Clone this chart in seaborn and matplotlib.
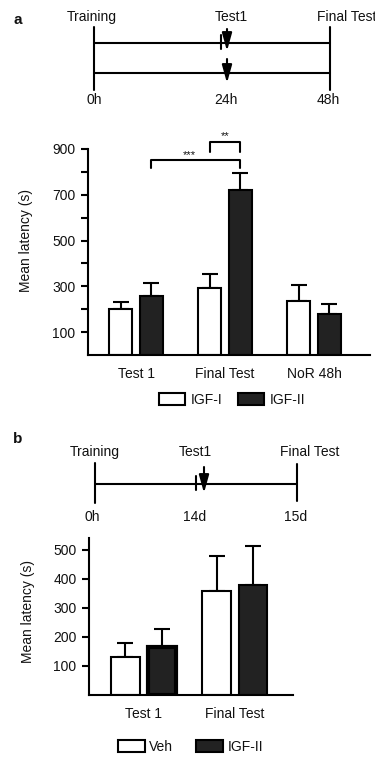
import numpy as np
import pandas as pd
import matplotlib
matplotlib.use("Agg")
import matplotlib.pyplot as plt
from matplotlib.patches import Patch
import seaborn as sns

# ---------------- data ----------------
cats_a = ["Test 1", "Final Test", "NoR 48h"]
igf1_a = [200, 293, 235]
igf1_a_err = [32, 60, 70]
igf2_a = [258, 720, 178]
igf2_a_err = [57, 75, 45]
groups_a = ["IGF-I", "IGF-II"]

cats_b = ["Test 1", "Final Test"]
veh_b = [130, 357]
veh_b_err = [48, 122]
igf2_b = [165, 380]
igf2_b_err = [62, 133]
groups_b = ["Veh", "IGF-II"]

yticks_a = [100, 200, 300, 400, 500, 600, 700, 800, 900]
yticklabels_a = ["100", "", "300", "", "500", "", "700", "", "900"]
yticks_b = [100, 200, 300, 400, 500]

tl_a_top = ["Training", "Test1", "Final Test"]
tl_a_bottom = ["0h", "24h", "48h"]
tl_b_top = ["Training", "Test1", "Final Test"]
tl_b_bottom = ["0h", "14d", "15d"]

sig_a = ["***", "**"]

# ---------------- style ----------------
sns.set_theme(style="ticks")
plt.rcParams["font.family"] = ["Liberation Sans", "DejaVu Sans"]
plt.rcParams["font.size"] = 10
plt.rcParams["text.color"] = "#111111"
plt.rcParams["axes.labelcolor"] = "#111111"
FS = 10
LW = 1.5
DARK = "#222222"

W, H = 375, 758
fig = plt.figure(figsize=(W / 100, H / 100), dpi=100)


def px_axes(x0, y0, x1, y1):
    return fig.add_axes([x0 / W, 1 - y1 / H, (x1 - x0) / W, (y1 - y0) / H])


# overlay for schematic (pixel coordinates)
ov = fig.add_axes([0, 0, 1, 1])
ov.set_xlim(0, W)
ov.set_ylim(H, 0)
ov.axis("off")


def arrow(x, y0, y1):
    ov.annotate("", xy=(x, y1), xytext=(x, y0),
                arrowprops=dict(arrowstyle="-|>,head_length=0.9,head_width=0.25",
                                lw=1.5, color="black", mutation_scale=12,
                                shrinkA=0, shrinkB=0))


# ---- panel a schematic ----
ov.text(18, 20, "a", fontsize=11, fontweight="bold", ha="center", va="center")
for x, lab in zip([92, 231], tl_a_top[:2]):
    ov.text(x, 17, lab, ha="center", va="center", fontsize=FS)
ov.text(317, 17, tl_a_top[2], ha="left", va="center", fontsize=FS)
for x, lab in zip([94, 226, 328], tl_a_bottom):
    ov.text(x, 100, lab, ha="center", va="center", fontsize=FS)
ov.plot([94, 94], [27, 90], color="black", lw=LW)
ov.plot([330, 330], [27, 90], color="black", lw=LW)
ov.plot([94, 330], [43, 43], color="black", lw=LW)
ov.plot([94, 330], [73, 73], color="black", lw=LW)
ov.plot([221, 221], [35, 49], color="black", lw=LW)
arrow(227, 29, 51)
arrow(227, 59, 83)

# ---- panel b schematic ----
ov.text(18, 439, "b", fontsize=11, fontweight="bold", ha="center", va="center")
for x, lab in zip([95, 195], tl_b_top[:2]):
    ov.text(x, 452, lab, ha="center", va="center", fontsize=FS)
ov.text(310, 452, tl_b_top[2], ha="center", va="center", fontsize=FS)
for x, lab in zip([92, 195, 296], tl_b_bottom):
    ov.text(x, 517, lab, ha="center", va="center", fontsize=FS)
ov.plot([95, 95], [463, 503], color="black", lw=LW)
ov.plot([297, 297], [464, 501], color="black", lw=LW)
ov.plot([95, 297], [484, 484], color="black", lw=LW)
ov.plot([196, 196], [476, 490], color="black", lw=LW)
arrow(204, 467, 493)


def style_axes(ax):
    sns.despine(ax=ax)
    for s in ["left", "bottom"]:
        ax.spines[s].set_linewidth(LW)
        ax.spines[s].set_color("black")
    ax.tick_params(axis="y", length=5, width=LW, pad=4, labelsize=FS,
                   colors="black", labelcolor="#111111")
    ax.tick_params(axis="x", length=0, pad=9, labelsize=FS, labelcolor="#111111")
    ax.set_xlabel("")


def add_err(ax, n_cat, errs):
    patches = ax.patches[: 2 * n_cat]
    for p, e in zip(patches, errs):
        xc = p.get_x() + p.get_width() / 2
        h = p.get_height()
        ax.errorbar([xc], [h], yerr=[[0], [e]], fmt="none", ecolor="black",
                    elinewidth=LW, capsize=5.5, capthick=LW, zorder=1, clip_on=False)


# ---- panel a bar chart ----
axa = px_axes(88, 149, 370, 355)
df_a = pd.DataFrame({
    "cat": cats_a * 2,
    "val": igf1_a + igf2_a,
    "grp": [groups_a[0]] * 3 + [groups_a[1]] * 3,
})
sns.barplot(data=df_a, x="cat", y="val", hue="grp", order=cats_a, hue_order=groups_a,
            palette={groups_a[0]: "white", groups_a[1]: DARK}, edgecolor="black",
            linewidth=LW, width=0.68, gap=0.235, legend=False, ax=axa, zorder=2)
add_err(axa, 3, igf1_a_err + igf2_a_err)
axa.set_ylim(0, 900)
axa.set_xlim(-0.54, 2.63)
axa.set_yticks(yticks_a)
axa.set_yticklabels(yticklabels_a)
style_axes(axa)
axa.set_ylabel("Mean latency (s)", fontsize=FS)
axa.yaxis.set_label_coords(-0.195, 0.558)

# significance brackets
pa = axa.patches
x_t1_2 = pa[3].get_x() + pa[3].get_width() / 2
x_f_1 = pa[1].get_x() + pa[1].get_width() / 2
x_f_2 = pa[4].get_x() + pa[4].get_width() / 2
axa.plot([x_t1_2, x_t1_2, x_f_2, x_f_2], [817, 852, 852, 817], color="black",
         lw=LW, clip_on=False)
axa.text((x_t1_2 + x_f_2) / 2 - 0.07, 875, sig_a[0], ha="center", va="center",
         fontsize=8, clip_on=False)
axa.plot([x_f_1, x_f_1, x_f_2, x_f_2], [887, 930, 930, 887], color="black",
         lw=LW, clip_on=False)
axa.text((x_f_1 + x_f_2) / 2, 955, sig_a[1], ha="center", va="center",
         fontsize=8, clip_on=False)

leg_a = [Patch(facecolor="white", edgecolor="black", lw=LW, label=groups_a[0]),
         Patch(facecolor=DARK, edgecolor="black", lw=LW, label=groups_a[1])]
fig.legend(handles=leg_a, loc="center", bbox_to_anchor=(232 / W, 1 - 400 / H),
           ncol=2, frameon=False, fontsize=FS, handlelength=1.87, handleheight=1.0,
           handletextpad=0.43, columnspacing=1.08, borderpad=0, borderaxespad=0)

# ---- panel b bar chart ----
axb = px_axes(89, 538, 293, 695)
df_b = pd.DataFrame({
    "cat": cats_b * 2,
    "val": veh_b + igf2_b,
    "grp": [groups_b[0]] * 2 + [groups_b[1]] * 2,
})
sns.barplot(data=df_b, x="cat", y="val", hue="grp", order=cats_b, hue_order=groups_b,
            palette={groups_b[0]: "white", groups_b[1]: DARK}, edgecolor="black",
            linewidth=LW, width=0.8, gap=0.225, legend=False, ax=axb, zorder=2)
axb.patches[2].set_linewidth(3)
add_err(axb, 2, veh_b_err + igf2_b_err)
axb.set_ylim(0, 541)
axb.set_xlim(-0.6, 1.64)
axb.set_yticks(yticks_b)
style_axes(axb)
axb.set_ylabel("Mean latency (s)", fontsize=FS)
axb.yaxis.set_label_coords(-0.267, 0.535)

leg_b = [Patch(facecolor="white", edgecolor="black", lw=LW, label=groups_b[0]),
         Patch(facecolor=DARK, edgecolor="black", lw=LW, label=groups_b[1])]
fig.legend(handles=leg_b, loc="center", bbox_to_anchor=(190.5 / W, 1 - 747 / H),
           ncol=2, frameon=False, fontsize=FS, handlelength=1.95, handleheight=1.0,
           handletextpad=0.3, columnspacing=1.65, borderpad=0, borderaxespad=0)

fig.savefig("out.png", dpi=100)
